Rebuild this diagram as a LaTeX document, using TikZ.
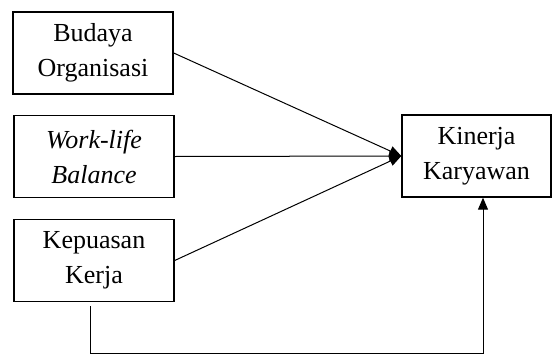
\documentclass[tikz,border=0pt]{standalone}
\usepackage{fontspec}
\setmainfont{Liberation Serif}
\usepackage{tikz}
\usetikzlibrary{arrows.meta,positioning}

\tikzset{
  varbox/.style={draw,line width=0.7pt,minimum width=80pt,minimum height=41pt,
    align=center,inner sep=2pt,font=\fontsize{13}{17.5}\selectfont},
  path/.style={line width=0.5pt},
}

\begin{document}
\begin{tikzpicture}[>={Triangle[length=6pt,width=5pt]},x=0.5pt,y=-0.5pt]
  \useasboundingbox (0,0) rectangle (552,354);
  % independent variables
  \node[varbox] (budaya) at (93,53) {Budaya\\Organisasi};
  \node[varbox] (wlb) at (94,156.5) {\textit{Work-life}\\\textit{Balance}};
  \node[varbox] (kepuasan) at (94,260.5) {Kepuasan\\Kerja};
  % dependent variable
  \node[varbox,minimum width=74.5pt] (kinerja) at (476.5,156) {Kinerja\\Karyawan};
  % direct paths
  \draw[path,->] (budaya.east) -- (kinerja.west);
  \draw[path,->] (wlb.east) -- (kinerja.west);
  \draw[path,->] (kepuasan.east) -- (kinerja.west);
  % path along the bottom
  \coordinate (loopstart) at (90,306);
  \coordinate (loopend) at (483,353);
  \draw[path,->] (loopstart) |- (loopend) -- (kinerja.south -| loopend);
\end{tikzpicture}
\end{document}
